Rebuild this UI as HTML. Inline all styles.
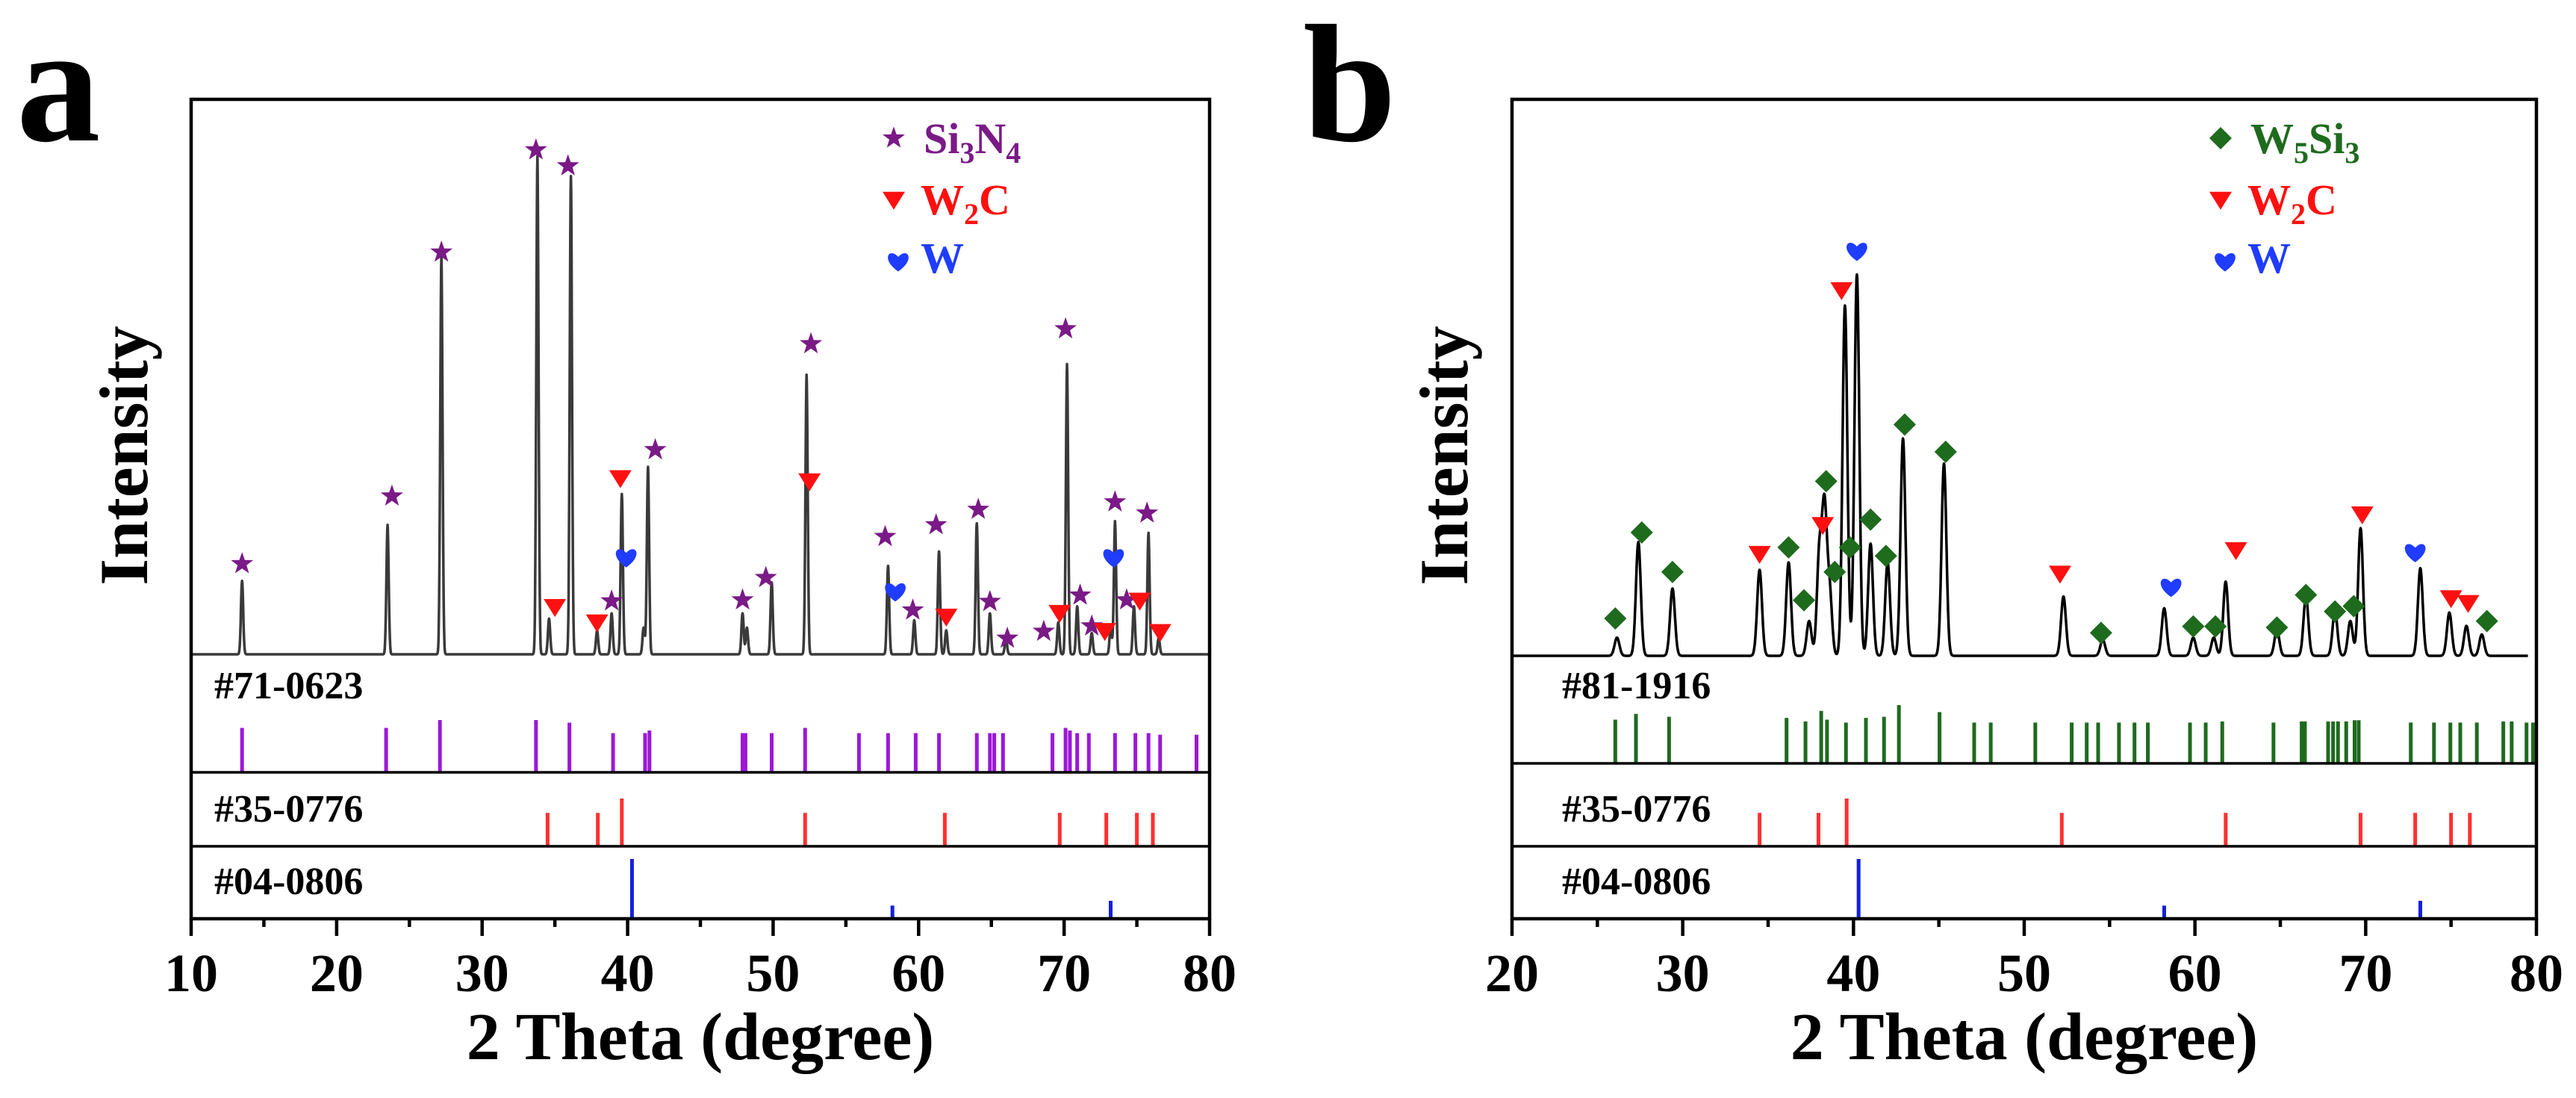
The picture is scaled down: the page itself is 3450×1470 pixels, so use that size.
<!DOCTYPE html>
<html><head><meta charset="utf-8"><style>
body{margin:0;background:#fff}
svg{display:block;font-family:"Liberation Serif",serif;font-weight:bold}
</style></head><body>
<svg id="fig" width="3450" height="1470" viewBox="0 0 3450 1470" xmlns="http://www.w3.org/2000/svg"></svg>
<script>
// ---------- Panel a data ----------
const aPeakPos=[13.5,23.5,27.2,33.8,34.6,36.1,37.9,38.9,39.6,41.1,41.4,47.9,48.2,49.9,52.3,57.9,59.7,61.4,61.9,64.0,64.9,66.0,69.6,70.2,70.9,71.9,73.2,73.5,74.8,75.8,76.5];
const aPeakInt=[13.8,24.3,74.9,93.5,6.7,89.8,4.5,7.7,30.1,5,35.2,7.7,5,13.5,52.5,16.6,6.4,19.3,4.5,24.6,7.7,3,6,54.5,9,4,5,25,9,22.8,3];
const aStarX=[13.5,23.8,27.2,33.7,35.9,38.9,41.9,47.9,49.5,52.6,57.7,59.6,61.2,64.1,64.9,66.1,68.6,70.1,71.1,71.9,73.5,74.3,75.7];
const aStarY=[17,29.7,75.5,94.7,91.7,10,38.4,10.2,14.4,58.3,22.1,8.3,24.3,27.2,9.9,3,4.3,61.1,11.1,5.3,28.6,10.2,26.5];
const aTriX=[35.0,37.9,39.5,52.5,61.9,69.7,72.8,75.2,76.6];
const aTriY=[8.8,5.9,33,32.4,7,7.7,4.3,10,4.1];
const aHeartX=[39.9,58.4,73.4];
const aHeartY=[18.2,11.8,18.2];
const aRef1Pos=[13.5,23.4,27.1,33.7,36.0,39.0,41.2,41.5,47.9,48.1,49.9,52.2,55.9,57.9,59.8,61.4,64.0,64.9,65.2,65.8,69.2,70.1,70.4,70.9,71.7,73.5,74.9,75.8,76.6,79.1];
const aRef1Int=[85,85,100,100,95,75,75,80,75,75,75,85,75,75,75,75,75,75,75,75,75,85,80,75,75,75,75,75,72,72];
// ---------- Panel b data ----------
const bPeakPos=[26.15,27.4,29.4,34.5,36.2,37.4,38.0,38.3,38.6,39.5,40.2,41.0,42.0,42.9,45.3,52.3,54.6,58.2,59.9,61.1,61.8,64.8,66.5,68.2,69.1,69.7,73.2,74.9,75.9,76.8];
const bPeakInt=[3.4,21.3,12.6,16.1,17.5,6.5,19,27,12,65.6,71.4,21,17.5,40.7,36,11.1,3,8.9,3.4,3.4,13.9,4.9,11.1,8.4,6.5,23.9,16.4,8.1,5.6,4];
const bDiaX=[26.05,27.6,29.4,37.1,36.2,38.9,38.4,39.8,41.0,41.9,43.0,45.4,54.5,59.9,61.2,64.8,66.5,68.2,69.3,77.1];
const bDiaY=[7,23.1,15.7,10.4,20.3,15.7,32.7,20.3,25.5,18.7,43.3,38.2,4.3,5.5,5.5,5.3,11.4,8.3,9.3,6.5];
const bTriX=[34.5,38.2,39.3,52.1,62.4,69.8,75.0,76.0];
const bTriY=[19,24.4,68.4,15.3,19.7,26.4,10.7,9.8];
const bHeartX=[40.2,58.6,72.9];
const bHeartY=[75.8,12.9,19.4];
const bRef1Pos=[26.05,27.26,29.2,36.08,37.19,38.11,38.45,39.56,40.73,41.79,42.66,45.04,47.07,48.04,50.65,52.78,53.66,54.33,55.55,56.46,57.24,59.71,60.63,61.6,64.6,66.25,66.44,67.8,68.09,68.38,68.86,69.35,69.59,72.64,74.0,74.96,75.54,76.51,78.06,78.55,79.42,79.8];
const bRef1Int=[75,85,80,78,72,90,75,70,78,80,100,88,70,70,70,70,70,70,70,70,70,70,70,72,70,72,72,72,72,72,72,74,74,70,70,70,70,70,72,72,70,70];
// ---------- Shared references ----------
const w2cPos=[34.5,37.95,39.6,52.2,61.8,69.7,72.9,75.0,76.1];
const w2cInt=[70,70,100,70,70,70,70,70,70];
const wPos=[40.3,58.2,73.2];
const wInt=[100,22,30];
const aTicks=[10,20,30,40,50,60,70,80];
const bTicks=[20,30,40,50,60,70,80];

const NS="http://www.w3.org/2000/svg";
const svg=document.getElementById('fig');
function mk(tag,attrs,parent){const e=document.createElementNS(NS,tag);for(const k in attrs)e.setAttribute(k,attrs[k]);(parent||svg).appendChild(e);return e;}

function panel(cfg){
  const g=mk('g',{});
  
  
  const L=cfg.left,R=cfg.right,T=133,B=1230,base=cfg.base,SEP2=1133,vTop=163;
  const xs=v=>L+(v-cfg.xmin)/(cfg.xmax-cfg.xmin)*(R-L);
  const ys=v=>base-v*(base-vTop)/100;
  let d='';
  for(let x=cfg.sStart;x<=cfg.sEnd+1e-9;x+=0.02){
    let y=0;for(let i=0;i<cfg.pPos.length;i++){const t=(x-cfg.pPos[i])/cfg.w;y+=cfg.pInt[i]*Math.exp(-t*t);}
    d+=(d?'L':'M')+xs(x).toFixed(1)+','+ys(y).toFixed(1);
  }
  const sp=mk('path',{d:d,fill:'none',stroke:cfg.lineColor,'stroke-width':3.5,'stroke-linejoin':'round'},g);
  
  
  const sz=15;
  function star(cx,cy,col){let p='';for(let k=0;k<10;k++){const r=k%2?sz*0.42:sz*1.05;const a=-Math.PI/2+k*Math.PI/5;p+=(cx+r*Math.cos(a)).toFixed(1)+','+(cy+r*Math.sin(a)).toFixed(1)+' ';}return mk('polygon',{points:p,fill:col},g);}
  function tri(cx,cy,col){return mk('polygon',{points:`${cx-sz},${cy-sz*0.75} ${cx+sz},${cy-sz*0.75} ${cx},${cy+sz*0.85}`,fill:col},g);}
  function heart(cx,cy,col){return mk('path',{d:`M${cx},${cy+sz*0.9} C${cx-sz*1.6},${cy-sz*0.2} ${cx-sz*0.8},${cy-sz*1.3} ${cx},${cy-sz*0.4} C${cx+sz*0.8},${cy-sz*1.3} ${cx+sz*1.6},${cy-sz*0.2} ${cx},${cy+sz*0.9} Z`,fill:col},g);}
  function dia(cx,cy,col){return mk('polygon',{points:`${cx},${cy-sz} ${cx+sz},${cy} ${cx},${cy+sz} ${cx-sz},${cy}`,fill:col},g);}
  for(let i=0;i<cfg.m1X.length;i++){const e=(cfg.m1Shape==='star'?star:dia)(xs(cfg.m1X[i]),ys(cfg.m1Y[i]),cfg.m1Col);
    
    }
  for(let i=0;i<cfg.tX.length;i++){const e=tri(xs(cfg.tX[i]),ys(cfg.tY[i]),'#ff1010');
    
    }
  for(let i=0;i<cfg.hX.length;i++){const e=heart(xs(cfg.hX[i]),ys(cfg.hY[i]),'#1f3cff');
    
    }
  function sticks(pos,int,bottom,hmax,col,nm){
    for(let i=0;i<pos.length;i++){const x=xs(pos[i]);
      const e=mk('line',{x1:x,x2:x,y1:bottom,y2:bottom-int[i]/100*hmax,stroke:col,'stroke-width':5},g);
      
      }
  }
  sticks(cfg.r1Pos,cfg.r1Int,cfg.sep1,cfg.r1H,cfg.r1Col,'reference-stick-'+cfg.r1Label.slice(1));
  sticks(w2cPos,w2cInt,SEP2,64,'#ff3030','reference-stick-35-0776');
  sticks(wPos,wInt,B,80,'#1020e0','reference-stick-04-0806');
  [cfg.sep1,SEP2].forEach(y=>{const e=mk('line',{x1:L,x2:R,y1:y,y2:y,stroke:'#000','stroke-width':3.5},g);
    
    });
  const fr=mk('rect',{x:L,y:T,width:R-L,height:B-T,fill:'none',stroke:'#000','stroke-width':4.5},g);
  
  
  [[cfg.r1Label,935],['#35-0776',1100],['#04-0806',1197]].forEach(([t,y])=>{
    const e=mk('text',{x:cfg.labX,y:y,'font-size':52,fill:'#000'},g);e.textContent=t;
    
    });
  for(let v=cfg.xmin;v<=cfg.xmax;v+=5){const x=xs(v);const major=v%10===0;
    const e=mk('line',{x1:x,x2:x,y1:B,y2:B+(major?23:11),stroke:'#000','stroke-width':4.5},g);
    
    }
  cfg.ticks.forEach(v=>{const e=mk('text',{x:xs(v),y:1327,'font-size':72,'text-anchor':'middle'},g);e.textContent=v;
    
    });
  const xt=mk('text',{x:(L+R)/2,y:1418,'font-size':90,'text-anchor':'middle'},g);xt.textContent='2 Theta (degree)';
  
  
  const yt=mk('text',{x:0,y:0,'font-size':92,'text-anchor':'middle',transform:`translate(${cfg.yTitleX},610) rotate(-90)`},g);yt.textContent='Intensity';
  
  
  const pl=mk('text',{x:cfg.letterX,y:188,'font-size':225},g);pl.textContent=cfg.letter;
  
  
  const lg=mk('g',{},g);
  
  
  const lx=cfg.legX;
  const m1=(cfg.m1Shape==='star'?star:dia)(lx,185,cfg.m1Col);lg.appendChild(m1);
  const t1=mk('text',{x:lx+40,y:205,'font-size':58,fill:cfg.m1Col},lg);t1.innerHTML=cfg.m1Leg;
  const m2=tri(lx,268,'#ff1010');lg.appendChild(m2);
  const t2=mk('text',{x:lx+36,y:287,'font-size':58,fill:'#ff1010'},lg);t2.innerHTML='W<tspan font-size="40" dy="13">2</tspan><tspan dy="-13">C</tspan>';
  const m3=heart(lx+6,350,'#1f3cff');lg.appendChild(m3);
  const t3=mk('text',{x:lx+36,y:365,'font-size':58,fill:'#1f3cff'},lg);t3.textContent='W';
}

panel({name:'panel-a',left:256,right:1620,xmin:10,xmax:80,base:876,sStart:10,sEnd:80,w:0.11,
  pPos:aPeakPos,pInt:aPeakInt,lineColor:'#3a3a3a',
  m1X:aStarX,m1Y:aStarY,m1Shape:'star',m1Col:'#7a1a86',m1Name:'si3n4-marker',
  m1Leg:'Si<tspan font-size="40" dy="13">3</tspan><tspan dy="-13">N</tspan><tspan font-size="40" dy="13">4</tspan>',
  tX:aTriX,tY:aTriY,hX:aHeartX,hY:aHeartY,
  r1Pos:aRef1Pos,r1Int:aRef1Int,r1Col:'#9b18d8',r1H:70,r1Label:'#71-0623',sep1:1034,
  labX:287,ticks:aTicks,yTitleX:197,letterX:22,letter:'a',legX:1197});
panel({name:'panel-b',left:2025,right:3397,xmin:20,xmax:80,base:878,sStart:20,sEnd:79.5,w:0.2,
  pPos:bPeakPos,pInt:bPeakInt,lineColor:'#000',
  m1X:bDiaX,m1Y:bDiaY,m1Shape:'dia',m1Col:'#1e6b1e',m1Name:'w5si3-marker',
  m1Leg:'W<tspan font-size="40" dy="13">5</tspan><tspan dy="-13">Si</tspan><tspan font-size="40" dy="13">3</tspan>',
  tX:bTriX,tY:bTriY,hX:bHeartX,hY:bHeartY,
  r1Pos:bRef1Pos,r1Int:bRef1Int,r1Col:'#1e6b1e',r1H:78,r1Label:'#81-1916',sep1:1022,
  labX:2092,ticks:bTicks,yTitleX:1965,letterX:1745,letter:'b',legX:2974});
</script>
</body></html>
